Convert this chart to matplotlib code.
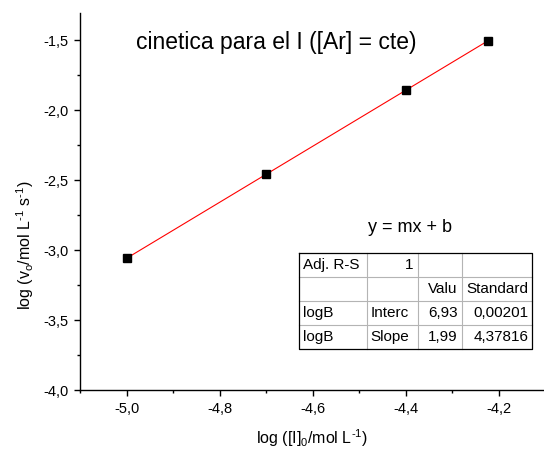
import numpy as np
import matplotlib
matplotlib.use("Agg")
import matplotlib.pyplot as plt
from matplotlib.ticker import MultipleLocator, FuncFormatter
from matplotlib.lines import Line2D

plt.rcParams['font.family'] = ['Liberation Sans', 'DejaVu Sans']
plt.rcParams['mathtext.fontset'] = 'custom'
plt.rcParams['mathtext.rm'] = 'Liberation Sans'
plt.rcParams['mathtext.it'] = 'Liberation Sans:italic'
plt.rcParams['mathtext.default'] = 'regular'

# ---- data ----
log_I = [-5.0, -4.7, -4.4, -4.223]
log_v = [-3.059, -2.460, -1.858, -1.505]

title_text = "cinetica para el I ([Ar] = cte)"
eq_text = "y = mx + b"
table_rows = [
    ["Adj. R-S", "1", "", ""],
    ["", "", "Valu", "Standard"],
    ["logB", "Interc", "6,93", "0,00201"],
    ["logB", "Slope", "1,99", "4,37816"],
]

W, H = 544, 450
fig = plt.figure(figsize=(W / 100, H / 100), dpi=100)

def fx(px):
    return px / W

def fy(py):
    return 1 - py / H

ax = fig.add_axes([fx(80), fy(390), (544 - 80) / W, (390 - 13) / H])
ax.set_xlim(-5.1, -4.103)
ax.set_ylim(-4.0, -1.307)

# fit line
m, b = np.polyfit(log_I, log_v, 1)
xf = np.array([log_I[0], log_I[-1]])
ax.plot(xf, m * xf + b, color='#ff0000', lw=0.8, zorder=2)
ax.plot(log_I, log_v, ls='none', marker='s', ms=6.3, mfc='black', mec='black', zorder=3)

for s in ['top', 'right']:
    ax.spines[s].set_visible(False)
for s in ['left', 'bottom']:
    ax.spines[s].set_linewidth(1.0)

ax.xaxis.set_major_locator(MultipleLocator(0.2))
ax.xaxis.set_minor_locator(MultipleLocator(0.1))
ax.yaxis.set_major_locator(MultipleLocator(0.5))
ax.yaxis.set_minor_locator(MultipleLocator(0.25))
fmt = FuncFormatter(lambda v, p: ("%.1f" % v).replace('.', ','))
ax.xaxis.set_major_formatter(fmt)
ax.yaxis.set_major_formatter(fmt)
ax.tick_params(which='major', direction='out', length=4.5, width=1.0, labelsize=10.5, pad=4)
ax.tick_params(which='minor', direction='out', length=2.5, width=1.0)

fig.text(fx(25), fy(245), r'log (v$_{o}$/mol L$^{\text{-1}}$ s$^{\text{-1}}$)', rotation=90,
         ha='center', va='center', fontsize=11.5)
fig.text(fx(312), fy(438), r'log ([I]$_{0}$/mol L$^{\text{-1}}$)', ha='center', va='center',
         fontsize=11.5)

fig.text(fx(276), fy(42), title_text, ha='center', va='center', fontsize=16.5)
fig.text(fx(410), fy(227), eq_text, ha='center', va='center', fontsize=13)

# table
cols = [299.3, 366.7, 417.7, 461.7, 532.3]
rows = [253.3, 276.7, 301.0, 325.0, 349.0]
for c in cols[1:-1]:
    fig.add_artist(Line2D([fx(c), fx(c)], [fy(rows[0]), fy(rows[-1])], color='#b4b4b4', lw=0.8))
for r in rows[1:-1]:
    fig.add_artist(Line2D([fx(cols[0]), fx(cols[-1])], [fy(r), fy(r)], color='#b4b4b4', lw=0.8))
fig.add_artist(Line2D([fx(cols[0]), fx(cols[-1]), fx(cols[-1]), fx(cols[0]), fx(cols[0])],
                      [fy(rows[0]), fy(rows[0]), fy(rows[-1]), fy(rows[-1]), fy(rows[0])],
                      color='black', lw=0.9))
for i, row in enumerate(table_rows):
    yc = (rows[i] + rows[i + 1]) / 2
    for j, txt in enumerate(row):
        if not txt:
            continue
        right = j >= 2 or txt.replace(',', '').isdigit()
        if right:
            fig.text(fx(cols[j + 1] - 4), fy(yc), txt, ha='right', va='center', fontsize=11)
        else:
            fig.text(fx(cols[j] + 4), fy(yc), txt, ha='left', va='center', fontsize=11)

fig.savefig('out.png', dpi=100)
